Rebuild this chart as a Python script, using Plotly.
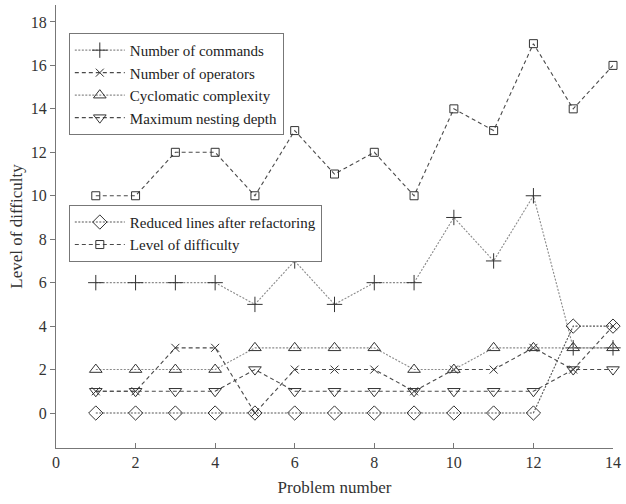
import plotly.graph_objects as go

problems = list(range(1, 15))
commands = [6, 6, 6, 6, 5, 7, 5, 6, 6, 9, 7, 10, 3, 3]
operators = [1, 1, 3, 3, 0, 2, 2, 2, 1, 2, 2, 3, 2, 4]
cyclomatic = [2, 2, 2, 2, 3, 3, 3, 3, 2, 2, 3, 3, 3, 3]
nesting = [1, 1, 1, 1, 2, 1, 1, 1, 1, 1, 1, 1, 2, 2]
reduced = [0, 0, 0, 0, 0, 0, 0, 0, 0, 0, 0, 0, 4, 4]
difficulty = [10, 10, 12, 12, 10, 13, 11, 12, 10, 14, 13, 17, 14, 16]

x_ticks = [0, 2, 4, 6, 8, 10, 12, 14]
y_ticks = [0, 2, 4, 6, 8, 10, 12, 14, 16, 18]

FONT = "Liberation Serif, Times New Roman, serif"
DOT = "2px,1.5px"
DASH = "4px,3px"

series = [
    ("Number of commands", commands, "cross-thin-open", 11, DOT, "#8a8a8a", "legend"),
    ("Number of operators", operators, "x-thin-open", 8, DASH, "#4a4a4a", "legend"),
    ("Cyclomatic complexity", cyclomatic, "triangle-up-open", 11, DOT, "#8a8a8a", "legend"),
    ("Maximum nesting depth", nesting, "triangle-down-open", 11, DASH, "#4a4a4a", "legend"),
    ("Reduced lines after refactoring", reduced, "diamond-open", 11, DOT, "#555555", "legend2"),
    ("Level of difficulty", difficulty, "square-open", 8, DASH, "#4a4a4a", "legend2"),
]

fig = go.Figure()
for name, vals, sym, size, dash, lcol, leg in series:
    fig.add_trace(go.Scatter(
        x=problems, y=vals, name=name, mode="lines+markers",
        line=dict(color=lcol, width=1.1, dash=dash),
        marker=dict(symbol=sym, size=size, color="#333333",
                    line=dict(color="#333333", width=1)),
        cliponaxis=False, legend=leg,
    ))

legend_style = dict(
    bgcolor="white", bordercolor="#777777", borderwidth=1,
    font=dict(family=FONT, size=15, color="#222222"),
    xanchor="left", yanchor="top", tracegroupgap=0,
    itemwidth=50,
)

fig.update_layout(
    width=626, height=504,
    margin=dict(l=56, r=9, t=5, b=56),
    plot_bgcolor="white", paper_bgcolor="white",
    font=dict(family=FONT, size=16, color="#333333"),
    showlegend=True,
    legend=dict(x=0.023, y=0.937, **legend_style),
    legend2=dict(x=0.023, y=0.549, **legend_style),
    xaxis=dict(
        range=[0, 14], tickvals=x_ticks, ticktext=[str(v) for v in x_ticks],
        ticks="inside", ticklen=5, tickcolor="#777777",
        showline=True, linecolor="#777777", linewidth=1,
        showgrid=False, zeroline=False,
        title=dict(text="Problem number", standoff=10,
                   font=dict(family=FONT, size=17, color="#333333")),
        tickfont=dict(family=FONT, size=16, color="#333333"),
    ),
    yaxis=dict(
        range=[-1.61, 18.78], tickvals=y_ticks, ticktext=[str(v) for v in y_ticks],
        ticks="outside", ticklen=5, tickcolor="#777777",
        showline=True, linecolor="#777777", linewidth=1,
        showgrid=False, zeroline=False,
        title=dict(text="Level of difficulty", standoff=3,
                   font=dict(family=FONT, size=17, color="#333333")),
        tickfont=dict(family=FONT, size=16, color="#333333"),
    ),
)

fig.write_html("out.html")
